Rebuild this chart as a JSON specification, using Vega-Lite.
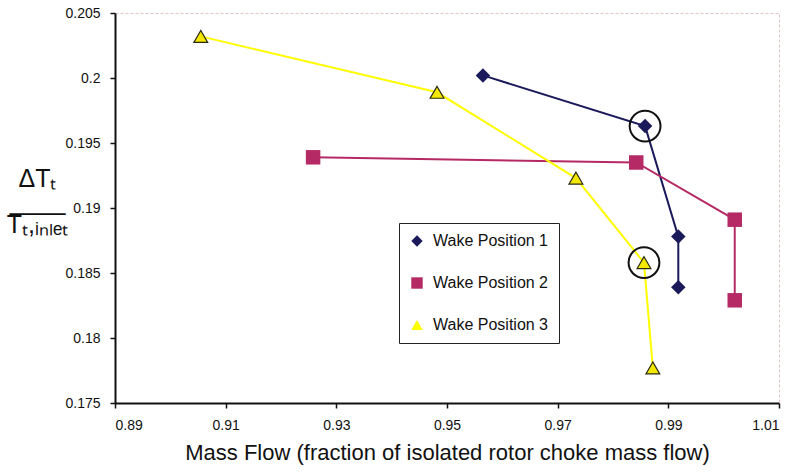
{
  "$schema": "https://vega.github.io/schema/vega-lite/v6.json",
  "width": 664,
  "height": 390,
  "autosize": {"type": "none"},
  "padding": {"left": 115, "top": 13, "right": 15, "bottom": 70},
  "background": "white",
  "config": {
    "font": "Liberation Sans",
    "view": {"stroke": "#e3c4c4", "strokeDash": [3, 2], "strokeWidth": 1},
    "axis": {
      "grid": false,
      "domainColor": "#111111",
      "domainWidth": 2,
      "tickColor": "#111111",
      "tickWidth": 1.5,
      "tickSize": 5,
      "labelFont": "Liberation Sans",
      "labelFontSize": 14,
      "labelColor": "#111111",
      "titleFont": "Liberation Sans",
      "titleColor": "#111111",
      "titleFontWeight": "normal"
    }
  },
  "data": {
    "values": [
      {"series": "Wake Position 1", "seq": 1, "flow": 0.9565, "dTt": 0.2002, "circled": false},
      {"series": "Wake Position 1", "seq": 2, "flow": 0.9858, "dTt": 0.1963, "circled": true},
      {"series": "Wake Position 1", "seq": 3, "flow": 0.9918, "dTt": 0.1878, "circled": false},
      {"series": "Wake Position 1", "seq": 4, "flow": 0.9918, "dTt": 0.1839, "circled": false},
      {"series": "Wake Position 2", "seq": 1, "flow": 0.9258, "dTt": 0.1939, "circled": false},
      {"series": "Wake Position 2", "seq": 2, "flow": 0.9842, "dTt": 0.1935, "circled": false},
      {"series": "Wake Position 2", "seq": 3, "flow": 1.002, "dTt": 0.1891, "circled": false},
      {"series": "Wake Position 2", "seq": 4, "flow": 1.002, "dTt": 0.1829, "circled": false},
      {"series": "Wake Position 3", "seq": 1, "flow": 0.9055, "dTt": 0.2032, "circled": false},
      {"series": "Wake Position 3", "seq": 2, "flow": 0.9482, "dTt": 0.1989, "circled": false},
      {"series": "Wake Position 3", "seq": 3, "flow": 0.9733, "dTt": 0.1923, "circled": false},
      {"series": "Wake Position 3", "seq": 4, "flow": 0.9856, "dTt": 0.1858, "circled": true},
      {"series": "Wake Position 3", "seq": 5, "flow": 0.9872, "dTt": 0.1777, "circled": false}
    ]
  },
  "encoding": {
    "x": {
      "field": "flow",
      "type": "quantitative",
      "scale": {"domain": [0.89, 1.01], "nice": false, "zero": false},
      "axis": {
        "values": [0.89, 0.91, 0.93, 0.95, 0.97, 0.99, 1.01],
        "labelExpr": "format(datum.value, '.2f')",
        "labelPadding": 10,
        "title": "Mass Flow (fraction of isolated rotor choke mass flow)",
        "titleFontSize": 22,
        "titlePadding": 10
      }
    },
    "y": {
      "field": "dTt",
      "type": "quantitative",
      "scale": {"domain": [0.175, 0.205], "nice": false, "zero": false},
      "axis": {
        "values": [0.175, 0.18, 0.185, 0.19, 0.195, 0.2, 0.205],
        "format": "~g",
        "labelPadding": 10,
        "title": ["ΔTₜ", "____", "Tₜ,ᵢₙₗₑₜ"],
        "titleFontSize": 25,
        "titleAngle": 0,
        "titleAlign": "center",
        "titleBaseline": "top",
        "titleLineHeight": 23,
        "titleX": -78,
        "titleY": 153
      }
    }
  },
  "layer": [
    {
      "mark": {"type": "line", "strokeWidth": 2},
      "encoding": {
        "color": {
          "field": "series",
          "type": "nominal",
          "scale": {
            "domain": ["Wake Position 1", "Wake Position 2", "Wake Position 3"],
            "range": ["#1b1b5c", "#b52a65", "#ffff00"]
          },
          "legend": {
            "title": null,
            "orient": "none",
            "legendX": 284,
            "legendY": 210,
            "strokeColor": "#222222",
            "fillColor": "white",
            "padding": 10,
            "labelFont": "Liberation Sans",
            "labelFontSize": 16,
            "labelColor": "#111111",
            "labelLimit": 300,
            "labelOffset": 8,
            "rowPadding": 26,
            "symbolSize": 130,
            "symbolStrokeWidth": 0
          }
        },
        "order": {"field": "seq", "type": "quantitative"}
      }
    },
    {
      "transform": [{"filter": "datum.series !== 'Wake Position 3'"}],
      "mark": {"type": "point", "filled": true, "opacity": 1, "size": 210},
      "encoding": {
        "color": {"field": "series", "type": "nominal"},
        "shape": {
          "field": "series",
          "type": "nominal",
          "scale": {
            "domain": ["Wake Position 1", "Wake Position 2", "Wake Position 3"],
            "range": ["diamond", "square", "triangle-up"]
          },
          "legend": null
        }
      }
    },
    {
      "transform": [{"filter": "datum.series === 'Wake Position 3'"}],
      "mark": {"type": "point", "filled": true, "opacity": 1, "size": 190, "stroke": "#2a2a10", "strokeWidth": 1.2},
      "encoding": {
        "fill": {"field": "series", "type": "nominal", "scale": {"domain": ["Wake Position 3"], "range": ["#f5e800"]}, "legend": null},
        "shape": {"field": "series", "type": "nominal", "legend": null}
      }
    },
    {
      "transform": [{"filter": "datum.circled"}],
      "mark": {"type": "point", "shape": "circle", "filled": false, "size": 950, "stroke": "#111111", "strokeWidth": 2, "opacity": 1},
      "encoding": {}
    }
  ]
}
